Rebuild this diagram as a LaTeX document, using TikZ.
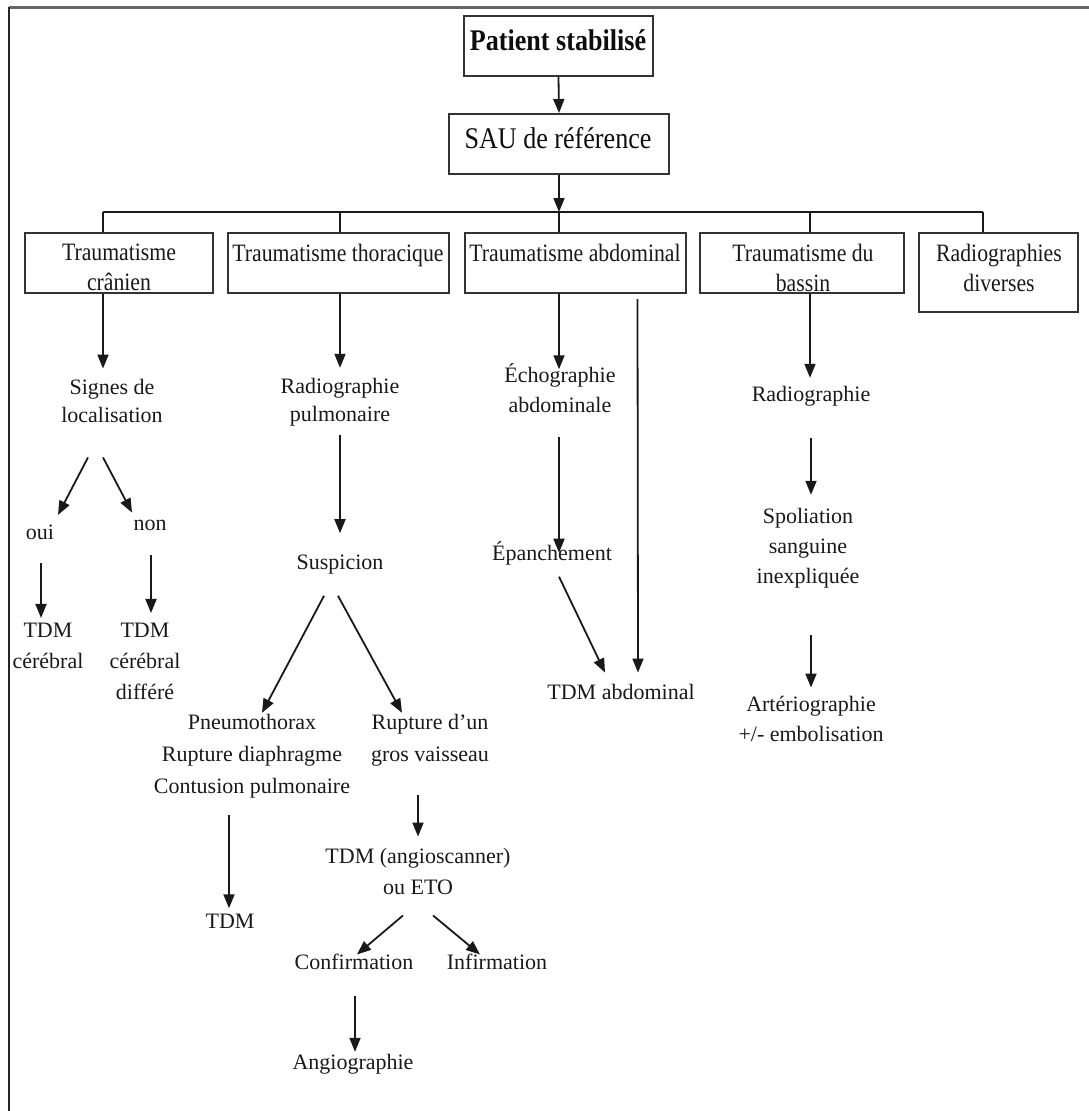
\documentclass[tikz,border=0pt]{standalone}
\usepackage{fontspec}
\setmainfont{Liberation Serif}
\newfontfamily\boxfont[FakeStretch=0.87]{Liberation Serif}
\usetikzlibrary{arrows.meta}

\begin{document}
\begin{tikzpicture}[x=1pt,y=-1pt,
  boxshape/.style={draw=black!80, line width=2pt, inner sep=0pt, minimum height=60pt},
  boxtext/.style={inner sep=0pt, align=center, text=black!90,
    font=\boxfont\fontsize{25}{30}\selectfont},
  toptext/.style={inner sep=0pt, align=center, text=black!95,
    font=\boxfont\fontsize{30}{34}\selectfont},
  txt/.style={inner sep=0pt, align=center, text=black!90,
    font=\fontsize{22}{30}\selectfont},
  arr/.style={-{Triangle[length=14pt,width=11pt]}, line width=1.8pt, draw=black!90},
  link/.style={line width=1.8pt, draw=black!90}]

\useasboundingbox (0,0) rectangle (1089,1111);

% page frame: only the top and left rules are visible
\draw[draw=black!60, line width=3pt] (9,7) -- (1089,7);
\draw[draw=black!85, line width=2pt] (9,7) -- (9,1111);

% ---------- top of the tree ----------
\node[boxshape, minimum width=189pt] (pat) at (558.5,46) {};
\node[toptext, font=\boxfont\fontsize{30}{34}\selectfont\bfseries] (pat-t) at (558,40) {Patient stabilisé};
\node[boxshape, minimum width=220pt] (sau) at (559,144) {};
\node[toptext] (sau-t) at (558,138) {SAU de référence};

\draw[arr] (pat.south) -- (sau.north);

% distribution bus
\coordinate (t1) at (103,212);
\coordinate (t2) at (340,212);
\coordinate (t3) at (559,212);
\coordinate (t4) at (810,212);
\coordinate (t5) at (983,212);
\draw[arr] (sau.south) -- (t3);
\draw[link] (t1) -- (t5);

% ---------- category boxes ----------
\node[boxshape, minimum width=188pt] (cran) at (119,263) {};
\node[boxshape, minimum width=221pt] (thor) at (338.5,263) {};
\node[boxshape, minimum width=221pt] (abd) at (575.5,263) {};
\node[boxshape, minimum width=204pt] (bass) at (802,263) {};
\node[boxshape, minimum width=159pt, minimum height=79pt] (radd) at (998.5,272.5) {};

\node[boxtext] (cran-t) at (119,267.5) {Traumatisme\\crânien};
\node[boxtext] (thor-t) at (338,255) {Traumatisme thoracique};
\node[boxtext] (abd-t) at (575,252.5) {Traumatisme abdominal};
\node[boxtext] (bass-t) at (803,267.5) {Traumatisme du\\bassin};
\node[boxtext] (radd-t) at (999,267.5) {Radiographies\\diverses};

\foreach \t/\b in {t1/cran, t2/thor, t3/abd, t4/bass, t5/radd}
  \draw[link] (\t) -- (\t |- \b.north);

% ---------- head injury ----------
\node[txt, font=\fontsize{22}{28}\selectfont] (signes) at (112,400.5) {Signes de\\localisation};
\node[txt] (oui) at (40,532.5) {oui};
\node[txt] (non) at (150,525) {non};
\node[txt, font=\fontsize{22}{31}\selectfont] (tdmc) at (48,646) {TDM\\cérébral};
\node[txt, font=\fontsize{22}{31}\selectfont] (tdmcd) at (145,661.5) {TDM\\cérébral\\différé};

\draw[arr] (cran.south -| t1) -- ([xshift=-9pt,yshift=10pt]signes.north);
\draw[arr] ([xshift=-24pt,yshift=-35pt]signes.south) -- ([xshift=18pt,yshift=10pt]oui.north);
\draw[arr] ([xshift=-9pt,yshift=-35pt]signes.south) -- ([xshift=-18pt,yshift=7pt]non.north);
\draw[arr] ([xshift=1pt,yshift=-23pt]oui.south) -- ([xshift=-7pt,yshift=5pt]tdmc.north);
\draw[arr] ([xshift=1pt,yshift=-25pt]non.south) -- ([xshift=6pt,yshift=10pt]tdmcd.north);

% ---------- chest injury ----------
\node[txt, font=\fontsize{22}{28}\selectfont] (radp) at (340,402) {Radiographie\\pulmonaire};
\node[txt] (susp) at (340,565) {Suspicion};
\node[txt, font=\fontsize{22}{32}\selectfont] (pneumo) at (252,756) {Pneumothorax\\Rupture diaphragme\\Contusion pulmonaire};
\node[txt, font=\fontsize{22}{32}\selectfont] (rupt) at (430,740) {Rupture d’un\\gros vaisseau};
\node[txt] (tdm) at (230,921.7) {TDM};
\node[txt, font=\fontsize{22}{31}\selectfont] (angio) at (418,871) {TDM (angioscanner)\\ou ETO};
\node[txt] (confirm) at (354,961.5) {Confirmation};
\node[txt] (infirm) at (497,961.5) {Infirmation};
\node[txt] (angiog) at (353,1064) {Angiographie};

\draw[arr] (thor.south -| t2) -- ([yshift=10pt]radp.north);
\draw[arr] ([yshift=-9pt]radp.south) -- ([yshift=22pt]susp.north);
\draw[arr] ([xshift=-16pt,yshift=-21pt]susp.south) -- ([xshift=10pt,yshift=1pt]pneumo.north);
\draw[arr] ([xshift=-2pt,yshift=-21pt]susp.south) -- ([xshift=-28pt,yshift=1pt]rupt.north);
\draw[arr] ([xshift=-23pt,yshift=-17pt]pneumo.south) -- ([xshift=-1pt,yshift=6pt]tdm.north);
\draw[arr] ([xshift=-12pt,yshift=-29pt]rupt.south) -- ([yshift=11pt]angio.north);
\draw[arr] ([xshift=-15pt,yshift=-21pt]angio.south) -- ([xshift=3pt,yshift=-1pt]confirm.north);
\draw[arr] ([xshift=15pt,yshift=-21pt]angio.south) -- ([xshift=-17pt,yshift=-1pt]infirm.north);
\draw[arr] ([xshift=1pt,yshift=-26pt]confirm.south) -- ([xshift=2pt,yshift=2pt]angiog.north);

% ---------- abdominal injury ----------
\node[txt] (echo) at (560,388) {Échographie\\abdominale};
\node[txt] (epan) at (552,553.7) {Épanchement};
\node[txt] (tdma) at (621,691.5) {TDM abdominal};

\draw[arr] (abd.south -| t3) -- ([xshift=-1pt,yshift=-6pt]echo.north);
\draw[arr] ([xshift=-1pt,yshift=-24pt]echo.south) -- ([xshift=7pt,yshift=-11pt]epan.north);
\draw[arr] ([xshift=7pt,yshift=-11pt]epan.south) -- ([xshift=-16pt,yshift=11pt]tdma.north);
\draw[arr] ([xshift=62pt,yshift=-5pt]abd.south) -- ([xshift=17pt,yshift=11pt]tdma.north);

% ---------- pelvic injury ----------
\node[txt] (radb) at (811,396) {Radiographie};
\node[txt] (spol) at (808,548) {Spoliation\\sanguine\\inexpliquée};
\node[txt] (arterio) at (811,718.5) {Artériographie\\+/- embolisation};

\draw[arr] (bass.south -| t4) -- ([xshift=-1pt,yshift=8pt]radb.north);
\draw[arr] ([yshift=-32pt]radb.south) -- ([xshift=3pt,yshift=13pt]spol.north);
\draw[arr] ([xshift=3pt,yshift=-47pt]spol.south) -- ([yshift=8pt]arterio.north);

\end{tikzpicture}
\end{document}
